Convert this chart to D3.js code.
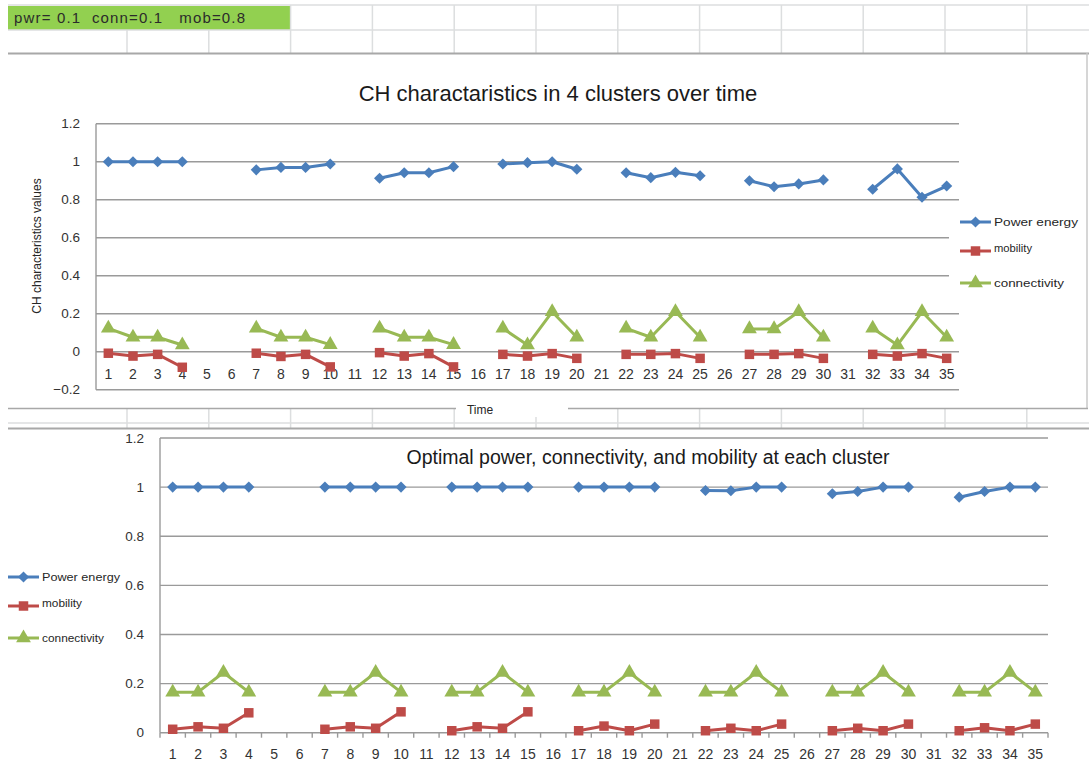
<!DOCTYPE html>
<html>
<head>
<meta charset="utf-8">
<script src="https://cdn.jsdelivr.net/npm/d3@7"></script>
<style>
  body { margin: 0; background: #fff; }
  svg { display: block; font-family: "Liberation Sans", Arial, sans-serif; }
</style>
</head>
<body>
<svg id="chart" width="1089" height="782"></svg>
<script>
// categories (time steps)
const times = [1,2,3,4,5,6,7,8,9,10,11,12,13,14,15,16,17,18,19,20,21,22,23,24,25,26,27,28,29,30,31,32,33,34,35];

// top chart: CH characteristics (null = no CH in that slot)
const topPower = [1,1,1,1,null,null,0.957,0.97,0.97,0.988,null,0.913,0.942,0.942,0.974,null,0.988,0.995,1,0.96,null,0.942,0.916,0.944,0.926,null,0.9,0.868,0.883,0.904,null,0.855,0.962,0.813,0.872];
const topMobility = [-0.008,-0.023,-0.014,-0.082,null,null,-0.008,-0.025,-0.014,-0.08,null,-0.005,-0.023,-0.01,-0.08,null,-0.014,-0.023,-0.01,-0.035,null,-0.014,-0.014,-0.01,-0.035,null,-0.014,-0.014,-0.01,-0.035,null,-0.014,-0.023,-0.01,-0.035];
const topConn = [0.123,0.076,0.076,0.035,null,null,0.123,0.076,0.076,0.037,null,0.123,0.076,0.076,0.037,null,0.123,0.035,0.21,0.076,null,0.123,0.076,0.21,0.076,null,0.12,0.12,0.21,0.076,null,0.123,0.035,0.21,0.076];

// bottom chart: optimal values per cluster
const botPower = [1,1,1,1,null,null,1,1,1,1,null,1,1,1,1,null,1,1,1,1,null,0.986,0.985,1,1,null,0.973,0.982,1,1,null,0.959,0.982,1,1];
const botMobility = [0.014,0.024,0.018,0.081,null,null,0.014,0.024,0.018,0.085,null,0.008,0.024,0.018,0.085,null,0.008,0.027,0.008,0.035,null,0.008,0.018,0.008,0.035,null,0.008,0.018,0.008,0.035,null,0.008,0.02,0.008,0.035];
const botConn = [0.165,0.165,0.245,0.165,null,null,0.165,0.165,0.245,0.165,null,0.165,0.165,0.245,0.165,null,0.165,0.165,0.245,0.165,null,0.165,0.165,0.245,0.165,null,0.165,0.165,0.245,0.165,null,0.165,0.165,0.245,0.165];

const seriesNames = ["Power energy", "mobility", "connectivity"];
const topTicks = [-0.2, 0, 0.2, 0.4, 0.6, 0.8, 1, 1.2];
const botTicks = [0, 0.2, 0.4, 0.6, 0.8, 1, 1.2];

const colors = ["#4a7ebb", "#be4b48", "#98b954"];
const shapes = [d3.symbolSquare, d3.symbolSquare, d3.symbolTriangle];
const sizes = [62, 90, 95];
const rot = [45, 0, 0];

const svg = d3.select("#chart");
const sheetLine = "#dcdedf";
const frameLine = "#a8a8a8";

// ---- spreadsheet background ----
const cols = d3.range(12).map(i => 127 + i * 81.8);
svg.append("rect").attr("x", 8).attr("y", 6).attr("width", 282).attr("height", 24).attr("fill", "#92d050");
svg.append("text").attr("x", 14).attr("y", 23).attr("font-size", 15).attr("fill", "#2b2b2b")
  .attr("xml:space", "preserve").attr("textLength", 231).text("pwr= 0.1  conn=0.1   mob=0.8");
[5, 30].forEach(y => svg.append("line").attr("x1", 8).attr("x2", 1089).attr("y1", y).attr("y2", y)
  .attr("stroke", sheetLine).attr("stroke-width", 1.5));
cols.forEach(x => {
  if (x > 290) svg.append("line").attr("x1", x).attr("x2", x).attr("y1", 5).attr("y2", 30).attr("stroke", sheetLine).attr("stroke-width", 1.5);
  svg.append("line").attr("x1", x).attr("x2", x).attr("y1", 30).attr("y2", 53).attr("stroke", sheetLine).attr("stroke-width", 1.5);
  svg.append("line").attr("x1", x).attr("x2", x).attr("y1", 408).attr("y2", 428).attr("stroke", sheetLine).attr("stroke-width", 1.5);
});
svg.append("line").attr("x1", 8).attr("x2", 1089).attr("y1", 423).attr("y2", 423).attr("stroke", sheetLine).attr("stroke-width", 1.5);

// top chart frame
svg.append("line").attr("x1", 8).attr("x2", 1089).attr("y1", 53.5).attr("y2", 53.5).attr("stroke", frameLine).attr("stroke-width", 2);
svg.append("line").attr("x1", 1087).attr("x2", 1087).attr("y1", 53).attr("y2", 409).attr("stroke", "#c8c8c8").attr("stroke-width", 1.5);
svg.append("line").attr("x1", 8).attr("x2", 1088).attr("y1", 408.5).attr("y2", 408.5).attr("stroke", frameLine).attr("stroke-width", 1.5);
// bottom chart frame top
svg.append("line").attr("x1", 8).attr("x2", 1089).attr("y1", 428.5).attr("y2", 428.5).attr("stroke", frameLine).attr("stroke-width", 2);

function drawChart(cfg) {
  const g = svg.append("g");
  const x = d3.scaleBand().domain(times).range([cfg.left, cfg.right]);
  const y = d3.scaleLinear().domain(cfg.domain).range([cfg.bottom, cfg.top]);
  const cx = t => x(t) + x.bandwidth() / 2;

  // gridlines
  g.append("g").selectAll("line").data(cfg.ticks).join("line")
    .attr("x1", cfg.left).attr("x2", cfg.right)
    .attr("y1", d => y(d)).attr("y2", d => y(d))
    .attr("stroke", "#9a9a9a").attr("stroke-width", 1.4);
  // left axis line
  g.append("line").attr("x1", cfg.left).attr("x2", cfg.left).attr("y1", cfg.top).attr("y2", cfg.bottom)
    .attr("stroke", "#9a9a9a").attr("stroke-width", 1.4);

  // y labels
  g.append("g").selectAll("text").data(cfg.ticks).join("text")
    .attr("x", cfg.left - cfg.labelGap).attr("y", d => y(d)).attr("dy", "0.35em")
    .attr("text-anchor", "end").attr("font-size", 13.5).attr("fill", "#333")
    .text(d => d3.format("")(+d.toFixed(1)));

  // x axis ticks + labels
  if (cfg.xTicks) {
    g.append("g").selectAll("line").data(times.concat([36])).join("line")
      .attr("x1", (d, i) => cfg.left + i * x.step()).attr("x2", (d, i) => cfg.left + i * x.step())
      .attr("y1", y(0)).attr("y2", y(0) + 5)
      .attr("stroke", "#9a9a9a").attr("stroke-width", 1.4);
  }
  g.append("g").selectAll("text").data(times).join("text")
    .attr("x", d => cx(d)).attr("y", cfg.xLabelY).attr("dy", "0.35em")
    .attr("text-anchor", "middle").attr("font-size", 14).attr("fill", "#333")
    .text(d => d);

  // series
  cfg.series.forEach((vals, si) => {
    const pts = times.map((t, i) => ({ t, v: vals[i] }));
    const line = d3.line().defined(d => d.v != null).x(d => cx(d.t)).y(d => y(d.v));
    g.append("path").attr("d", line(pts)).attr("fill", "none")
      .attr("stroke", colors[si]).attr("stroke-width", 3).attr("stroke-linejoin", "round");
    g.append("g").selectAll("path").data(pts.filter(d => d.v != null)).join("path")
      .attr("d", d3.symbol().type(shapes[si]).size(sizes[si]))
      .attr("transform", d => `translate(${cx(d.t)},${y(d.v)}) rotate(${rot[si]})`)
      .attr("fill", colors[si]);
  });

  // title
  g.append("text").attr("x", cfg.titleX).attr("y", cfg.titleY).attr("dy", "0.35em")
    .attr("text-anchor", "middle").attr("font-size", cfg.titleSize).attr("fill", "#1a1a1a")
    .text(cfg.title);

  // legend
  const lg = g.append("g");
  if (cfg.legendBg) {
    lg.append("rect").attr("x", cfg.legendBg[0]).attr("y", cfg.legendBg[1])
      .attr("width", cfg.legendBg[2]).attr("height", cfg.legendBg[3]).attr("fill", "#fff");
  }
  seriesNames.forEach((name, si) => {
    const ly = cfg.legendY[si];
    lg.append("line").attr("x1", cfg.legendX).attr("x2", cfg.legendX + 31)
      .attr("y1", ly).attr("y2", ly).attr("stroke", colors[si]).attr("stroke-width", 3);
    lg.append("path").attr("d", d3.symbol().type(shapes[si]).size(sizes[si])())
      .attr("transform", `translate(${cfg.legendX + 15.5},${ly}) rotate(${rot[si]})`)
      .attr("fill", colors[si]);
    lg.append("text").attr("x", cfg.legendX + 34).attr("y", ly - (si === 1 ? 3 : 0)).attr("dy", "0.35em")
      .attr("font-size", 11).attr("fill", "#262626").attr("textLength", cfg.legendW[si])
      .attr("lengthAdjust", "spacingAndGlyphs").text(name);
  });
  return { x, y };
}

// top chart
drawChart({
  left: 96, right: 959, top: 123.7, bottom: 389.7, domain: [-0.2, 1.2],
  ticks: topTicks, labelGap: 16, xLabelY: 374, xTicks: false,
  series: [topPower, topMobility, topConn],
  title: "CH charactaristics in 4 clusters over time", titleX: 558, titleY: 93, titleSize: 22,
  legendX: 960, legendY: [222, 251, 283], legendW: [84, 38, 70],
  legendBg: [949, 205, 130, 95]
});

// y title and Time label for top chart
svg.append("text").attr("transform", "translate(37,246) rotate(-90)").attr("text-anchor", "middle")
  .attr("dy", "0.35em").attr("font-size", 12).attr("fill", "#262626").text("CH characteristics values");
svg.append("rect").attr("x", 456).attr("y", 400).attr("width", 112).attr("height", 17).attr("fill", "#fff");
svg.append("text").attr("x", 480).attr("y", 410).attr("dy", "0.35em").attr("text-anchor", "middle")
  .attr("font-size", 12).attr("fill", "#262626").text("Time");

// bottom chart
drawChart({
  left: 160, right: 1048, top: 438, bottom: 732.7, domain: [0, 1.2],
  ticks: botTicks, labelGap: 16, xLabelY: 754, xTicks: true,
  series: [botPower, botMobility, botConn],
  title: "Optimal power, connectivity, and mobility at each cluster", titleX: 648, titleY: 457, titleSize: 19.5,
  legendX: 8, legendY: [577, 606, 638], legendW: [78, 40, 62],
  legendBg: null
});
</script>
</body>
</html>
